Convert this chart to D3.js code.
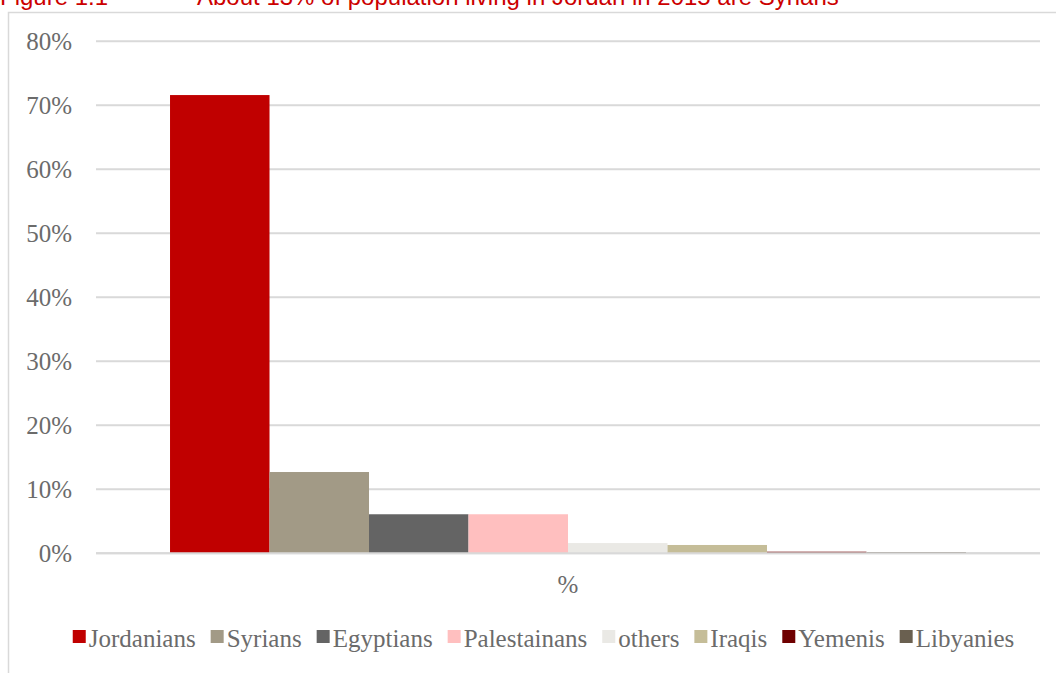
<!DOCTYPE html>
<html>
<head>
<meta charset="utf-8">
<script src="https://cdn.jsdelivr.net/npm/d3@7"></script>
<style>
  html, body { margin: 0; padding: 0; background: #fff; }
  svg { display: block; }
</style>
</head>
<body>
<svg id="chart" width="1056" height="673"></svg>
<script>
// Population living in Jordan in 2015, share by nationality
const categories = ["%"];
const seriesNames = ["Jordanians", "Syrians", "Egyptians", "Palestainans", "others", "Iraqis", "Yemenis", "Libyanies"];
const seriesValues = [71.6, 12.7, 6.1, 6.1, 1.6, 1.3, 0.25, 0.2];
const seriesColors = ["#c00000", "#a29a86", "#646464", "#ffbfbf", "#eae9e5", "#c5bd98", "#6f0000", "#6a6050"];
const yTicks = [0, 10, 20, 30, 40, 50, 60, 70, 80];
const titleNumber = "Figure 1.1";
const titleText = "About 13% of population living in Jordan in 2015 are Syrians";

const svg = d3.select("#chart");
const W = 1056, H = 673;
const serif = "'Liberation Serif', 'DejaVu Serif', serif";
const sans = "'Liberation Sans', Arial, sans-serif";
const textGrey = "#6b6b6b";
const fontSize = 25;

// chart frame
svg.append("rect")
  .attr("x", 8.5).attr("y", 12.5)
  .attr("width", W + 20).attr("height", H + 20)
  .attr("fill", "#fff").attr("stroke", "#d9d9d9").attr("stroke-width", 1.5);

// caption above the frame
svg.append("text")
  .attr("x", 0).attr("y", 4.5)
  .attr("font-family", sans).attr("font-size", 24).attr("fill", "#cc0000")
  .text(titleNumber);
svg.append("text")
  .attr("x", 197).attr("y", 4.5)
  .attr("font-family", sans).attr("font-size", 24).attr("fill", "#cc0000")
  .text(titleText);

const plot = { left: 96, right: 1040, top: 41.3, bottom: 553.3 };

const y = d3.scaleLinear().domain([0, 80]).range([plot.bottom, plot.top]);
const x0 = d3.scaleBand().domain(categories).range([plot.left, plot.right])
  .paddingInner(0).paddingOuter(0.093);
const x1 = d3.scaleBand().domain(seriesNames).range([0, x0.bandwidth()]).padding(0);

// gridlines
svg.append("g").selectAll("line").data(yTicks).join("line")
  .attr("x1", plot.left).attr("x2", plot.right)
  .attr("y1", d => y(d)).attr("y2", d => y(d))
  .attr("stroke", "#d9d9d9").attr("stroke-width", 2);

// value axis labels
const yAxis = d3.axisLeft(y).tickValues(yTicks).tickSize(0).tickPadding(0)
  .tickFormat(d => d + "%");
const yg = svg.append("g").attr("transform", "translate(72,0)").call(yAxis);
yg.select(".domain").remove();
yg.selectAll("text")
  .attr("font-family", serif).attr("font-size", fontSize).attr("fill", textGrey)
  .attr("dy", "0.34em");

// bars
const group = svg.append("g").selectAll("g").data(categories).join("g")
  .attr("transform", d => `translate(${x0(d)},0)`);
group.selectAll("rect")
  .data(() => seriesNames.map((n, i) => ({ name: n, value: seriesValues[i], color: seriesColors[i] })))
  .join("rect")
  .attr("x", d => x1(d.name))
  .attr("width", x1.bandwidth())
  .attr("y", d => y(d.value))
  .attr("height", d => y(0) - y(d.value))
  .attr("fill", d => d.color);

// baseline redrawn over the bars
svg.append("line")
  .attr("x1", plot.left).attr("x2", plot.right)
  .attr("y1", y(0)).attr("y2", y(0))
  .attr("stroke", "#d9d9d9").attr("stroke-width", 2);

// category axis label
const xAxis = d3.axisBottom(x0).tickSize(0).tickPadding(0);
const xg = svg.append("g").attr("transform", `translate(0,${y(0)})`).call(xAxis);
xg.select(".domain").remove();
xg.selectAll("text")
  .attr("font-family", serif).attr("font-size", fontSize).attr("fill", textGrey)
  .attr("dy", "1.6em");

// legend
const legend = svg.append("g");
const items = legend.selectAll("g").data(seriesNames).join("g");
items.append("rect")
  .attr("width", 13).attr("height", 13)
  .attr("y", -17)
  .attr("fill", (d, i) => seriesColors[i]);
items.append("text")
  .attr("x", 16).attr("y", 0)
  .attr("font-family", serif).attr("font-size", fontSize).attr("fill", textGrey)
  .text(d => d);
let cursor = 0;
const gap = 15;
items.each(function () {
  const t = d3.select(this).select("text").node().getComputedTextLength();
  d3.select(this).attr("transform", `translate(${cursor},0)`);
  cursor += 16 + t + gap;
});
const totalW = cursor - gap;
legend.attr("transform", `translate(${543.5 - totalW / 2},647)`);
</script>
</body>
</html>
